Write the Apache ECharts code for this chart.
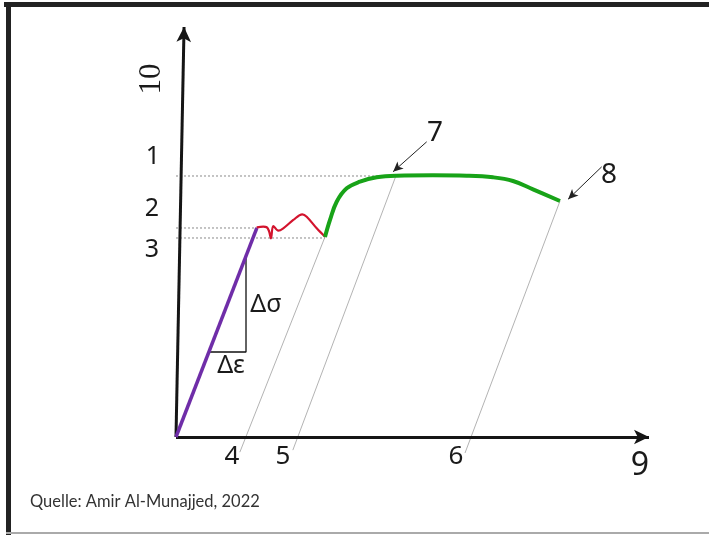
<!DOCTYPE html>
<html>
<head>
<meta charset="utf-8">
<script src="https://cdn.jsdelivr.net/npm/echarts@6/dist/echarts.min.js"></script>
<style>
html,body{margin:0;padding:0;background:#fff;}
#chart{width:709px;height:535px;}
</style>
</head>
<body>
<div id="chart"></div>
<script>
// ---- data (schematic units: strain 0..100, stress 0..100) ----
const elasticStrain = [0, 17.1];
const elasticStress = [0, 51.0];

const yieldStrain = [17.06, 18.46, 19.18, 19.66, 20.08, 20.57, 21.63, 22.68, 24.80, 26.70, 27.63, 29.75, 31.5];
const yieldStress = [51.15, 51.29, 51.15, 50.24, 48.46, 51.46, 50.32, 50.90, 52.93, 54.32, 53.73, 50.90, 48.85];

const hardeningStrain = [31.5, 32.56, 33.97, 36.09, 38.9, 42.43, 46.66, 54.33, 61.46, 67.02, 71.25, 75.48, 81.18];
const hardeningStress = [48.78, 52.93, 57.39, 60.66, 62.27, 63.34, 63.73, 63.83, 63.73, 63.34, 62.44, 60.41, 57.56];

// horizontal reference levels (Rm, ReH, ReL) and where they end
const levelStress = [63.66, 50.98, 48.54];
const levelEnd = [46.4, 17.1, 31.5];

// unloading lines parallel to the elastic line
const unloadStartX = [31.5, 46.5, 81.2];
const unloadStartY = [48.8, 63.7, 57.6];
const unloadEndX = [13.5, 24.7, 61.1];
const unloadEndY = [-3.7, -3.2, -3.9];

// slope triangle
const slopeX = [6.95, 14.8, 14.8];
const slopeY = [20.73, 20.73, 44.6];

// annotation arrows (from, to)
const arrowFromX = [53.0, 90.0];
const arrowFromY = [72.0, 65.9];
const arrowToX = [45.9, 82.9];
const arrowToY = [64.7, 58.0];

// axes (y axis slightly tilted)
const axisEndX = [100, 1.7];
const axisEndY = [0, 100];

const numberLabels = ['1', '2', '3', '4', '5', '6', '7', '8', '9', '10'];
const deltaLabels = ['Δσ', 'Δε'];
const sourceText = 'Quelle: Amir Al-Munajjed, 2022';

const zip = (xs, ys) => xs.map((x, i) => [x, ys[i]]);

const chart = echarts.init(document.getElementById('chart'), null, {renderer: 'canvas'});

const series = [];

// dotted level lines
levelStress.forEach((s, i) => {
  series.push({
    type: 'line', data: [[0, s], [levelEnd[i], s]], symbol: 'none', clip: false, z: 1,
    lineStyle: {color: '#8a8a8a', width: 1, type: [2, 2]}, silent: true
  });
});
// unloading lines
unloadStartX.forEach((x, i) => {
  series.push({
    type: 'line', data: [[x, unloadStartY[i]], [unloadEndX[i], unloadEndY[i]]], symbol: 'none', clip: false, z: 1,
    lineStyle: {color: '#a0a0a0', width: 0.8}, silent: true
  });
});
// slope triangle
series.push({
  type: 'line', data: zip(slopeX, slopeY), symbol: 'none', clip: false, z: 2,
  lineStyle: {color: '#111', width: 1.3}
});
// elastic line
series.push({
  type: 'line', data: zip(elasticStrain, elasticStress), symbol: 'none', clip: false, z: 5,
  lineStyle: {color: '#6f2da8', width: 3.5}
});
// yield region
series.push({
  type: 'line', data: zip(yieldStrain, yieldStress), symbol: 'none', clip: false, z: 5, smooth: 0.35,
  lineStyle: {color: '#d3142e', width: 2.2}
});
// hardening
series.push({
  type: 'line', data: zip(hardeningStrain, hardeningStress), symbol: 'none', clip: false, z: 5, smooth: 0.4,
  lineStyle: {color: '#18a318', width: 4}
});
// axes and arrows via markLine
series.push({
  type: 'line', data: [], symbol: 'none', z: 6,
  markLine: {
    silent: true, animation: false,
    symbol: ['none', 'arrow'], symbolSize: [11, 15],
    label: {show: false},
    lineStyle: {color: '#151515', width: 3, type: 'solid'},
    data: axisEndX.map((x, i) => [{coord: [0, 0]}, {coord: [x, axisEndY[i]]}])
  }
});
series.push({
  type: 'line', data: [], symbol: 'none', z: 6,
  markLine: {
    silent: true, animation: false,
    symbol: ['none', 'arrow'], symbolSize: [7, 10],
    label: {show: false},
    lineStyle: {color: '#222', width: 1, type: 'solid'},
    data: arrowFromX.map((x, i) => [{coord: [x, arrowFromY[i]]}, {coord: [arrowToX[i], arrowToY[i]]}])
  }
});

const txt = (t, x, y, size, extra) => Object.assign({
  type: 'text', x: x, y: y, z: 10,
  style: {text: t, fill: '#1a1a1a', font: size + 'px "Noto Sans", sans-serif', align: 'center', verticalAlign: 'middle'}
}, extra || {});

const graphics = [
  {type: 'rect', shape: {x: 4, y: 2, width: 705, height: 5}, style: {fill: '#222'}, z: 20},
  {type: 'rect', shape: {x: 6, y: 2, width: 5, height: 533}, style: {fill: '#222'}, z: 20},
  {type: 'rect', shape: {x: 6, y: 532, width: 703, height: 2}, style: {fill: '#aaa'}, z: 20},
  txt(numberLabels[0], 153, 157, 25),
  txt(numberLabels[1], 152, 209, 25),
  txt(numberLabels[2], 152, 250, 25),
  txt(numberLabels[3], 232, 457, 26),
  txt(numberLabels[4], 283, 457, 26),
  txt(numberLabels[5], 456, 457, 26),
  txt(numberLabels[6], 435, 133, 28),
  txt(numberLabels[7], 609, 175, 28),
  txt(numberLabels[8], 640, 466, 32),
  {type: 'text', x: 152, y: 79, rotation: Math.PI / 2, z: 10,
   style: {text: numberLabels[9], fill: '#1a1a1a', font: '31px "Liberation Serif", serif', align: 'center', verticalAlign: 'middle'}},
  txt(deltaLabels[0], 266, 305, 25),
  txt(deltaLabels[1], 231, 366, 25),
  {type: 'text', x: 30, y: 502, z: 10,
   style: {text: sourceText, fill: '#333', font: '16.5px Lato, sans-serif', align: 'left', verticalAlign: 'middle'}}
];

chart.setOption({
  animation: false,
  backgroundColor: '#fff',
  grid: {left: 176, right: 60, top: 27, bottom: 98, containLabel: false},
  xAxis: {type: 'value', min: 0, max: 100, show: false},
  yAxis: {type: 'value', min: 0, max: 100, show: false},
  series: series,
  graphic: graphics
});
</script>
</body>
</html>
